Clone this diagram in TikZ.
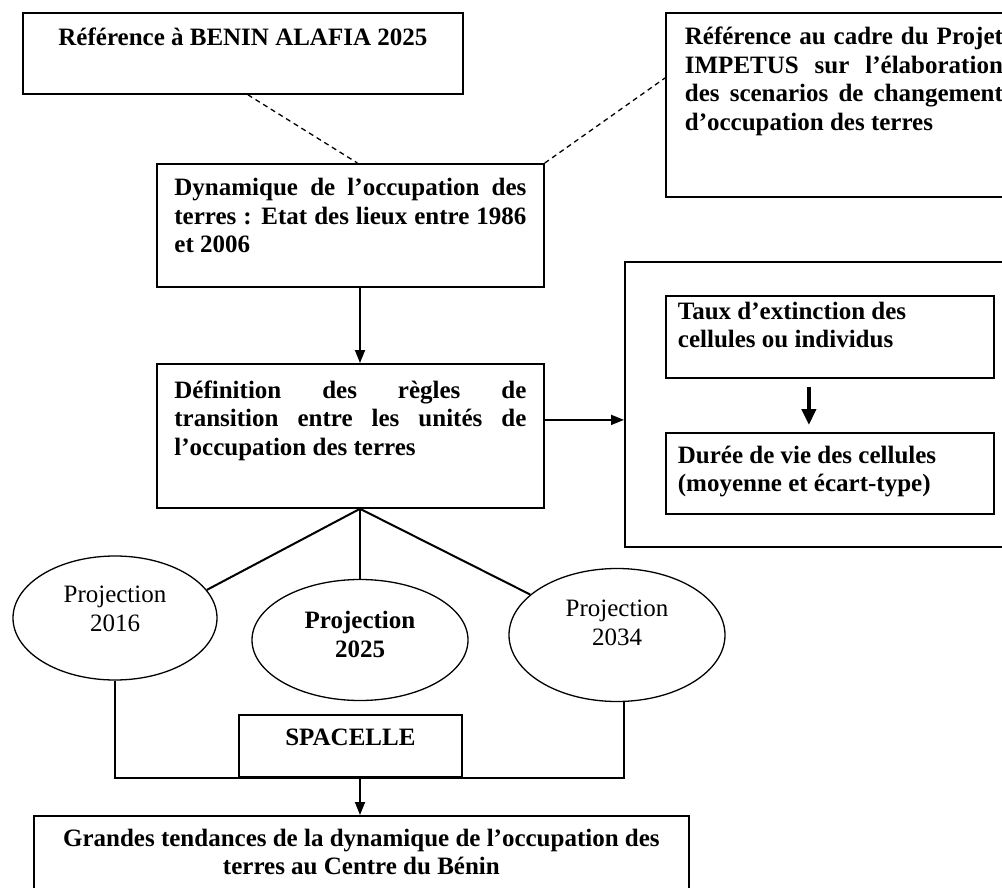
\documentclass[tikz,border=0pt]{standalone}
\usepackage{fontspec}
\setmainfont{Liberation Serif}
\usetikzlibrary{arrows.meta,shapes.geometric}

\tikzset{
  cadre/.style={draw, line width=1.8pt, anchor=north west, font=\fontsize{25}{28.5}\selectfont\bfseries},
  bulle/.style={draw, ellipse, line width=1.3pt, inner sep=0pt},
  proj/.style={align=center, inner sep=0pt, font=\fontsize{25}{29}\selectfont},
  projgras/.style={proj, font=\fontsize{25}{29}\selectfont\bfseries},
  fleche/.style={line width=1.8pt, -{Triangle[length=13pt,width=10pt]}},
  grossefleche/.style={line width=4.5pt, -{Triangle[length=16pt,width=14pt]}},
  pointille/.style={line width=1.3pt, dash pattern=on 5pt off 4pt},
  trait/.style={line width=2pt},
  crochet/.style={line width=2.4pt},
}

\begin{document}
\begin{tikzpicture}[x=1pt,y=-1pt]
    \useasboundingbox (0,0) rectangle (1002,888);
    \clip (0,0) rectangle (1002,888);
    % cadres du haut
    \node[cadre, inner xsep=10pt, inner ysep=15pt] (alafia) at (22,12)
        {\parbox[c][51pt][t]{420pt}{\centering Référence à BENIN ALAFIA 2025}};
    \node[cadre, inner xsep=19pt, inner ysep=14pt] (impetus) at (665,12)
        {\parbox[c][156pt][t]{318pt}{Référence au cadre du Projet\linebreak IMPETUS sur l’élaboration\linebreak des scenarios de changement\linebreak d’occupation des terres}};
    \node[cadre, inner xsep=17.5pt, inner ysep=14.5pt] (dyn) at (156,163)
        {\parbox[c][94pt][t]{352pt}{Dynamique de l’occupation des\linebreak terres : Etat des lieux entre 1986\linebreak et 2006}};
    \node[cadre, inner xsep=17.5pt, inner ysep=16.5pt] (def) at (156,363)
        {\parbox[c][111pt][t]{352pt}{Définition des règles de\linebreak transition entre les unités de\linebreak l’occupation des terres}};
    % cadre de droite
    \node[cadre, inner sep=0pt, minimum width=420pt, minimum height=285pt] (cellbox) at (624,261) {};
    \node[cadre, inner xsep=12pt, inner ysep=6pt] (taux) at (665,295)
        {\parbox[c][70pt][t]{304pt}{\raggedright Taux d’extinction des\\cellules ou individus}};
    \node[cadre, inner xsep=12pt, inner ysep=13pt] (duree) at (665,432)
        {\parbox[c][55pt][t]{304pt}{\raggedright Durée de vie des cellules\\(moyenne et écart-type)}};
    % projections
    \node[bulle, minimum width=204pt, minimum height=124pt] (e16) at (115,618) {};
    \node[bulle, minimum width=216pt, minimum height=121pt] (e25) at (360,640) {};
    \node[bulle, minimum width=216pt, minimum height=133pt] (e34) at (617,635) {};
    \node[proj] (p16) at ([yshift=9pt]e16.center) {Projection\\2016};
    \node[projgras] (p25) at ([yshift=6pt]e25.center) {Projection\\2025};
    \node[proj] (p34) at ([yshift=12pt]e34.center) {Projection\\2034};
    % bas
    \node[cadre, inner xsep=0pt, inner ysep=14pt] (spacelle) at (238,714)
        {\parbox[c][34pt][t]{223pt}{\centering SPACELLE}};
    \node[cadre, inner xsep=10pt, inner ysep=13pt] (bas) at (33,815)
        {\parbox[c][74pt][t]{635pt}{\centering Grandes tendances de la dynamique de l’occupation des\\terres au Centre du Bénin}};
    % liaisons
    \draw[pointille] ([xshift=5pt]alafia.south) -- ([xshift=7pt]dyn.north);
    \draw[pointille] (dyn.north east) -- ([yshift=-66pt]impetus.north west);
    \draw[fleche] (dyn.south -| e25) -- (def.north -| e25);
    \coordinate (sortie) at ([yshift=16pt]def.east);
    \draw[fleche] (sortie) -- (sortie -| cellbox.west);
    \draw[grossefleche] ([xshift=-21pt,yshift=-8pt]taux.south) -- ([xshift=-21pt,yshift=7pt]duree.north);
    \coordinate (pied) at (def.south -| e25);
    \draw[trait] (pied) -- (e16.17);
    \draw[line width=1.3pt] (pied) -- (e25.north);
    \draw[trait] (pied) -- (e34.155);
    \coordinate (coin) at ([xshift=7pt]e34.south);
    \draw[crochet] (e16.south) -- (e16.south |- spacelle.south) -- (coin |- spacelle.south) -- (coin);
    \draw[fleche] (spacelle.south -| e25) -- (bas.north -| e25);
\end{tikzpicture}
\end{document}
